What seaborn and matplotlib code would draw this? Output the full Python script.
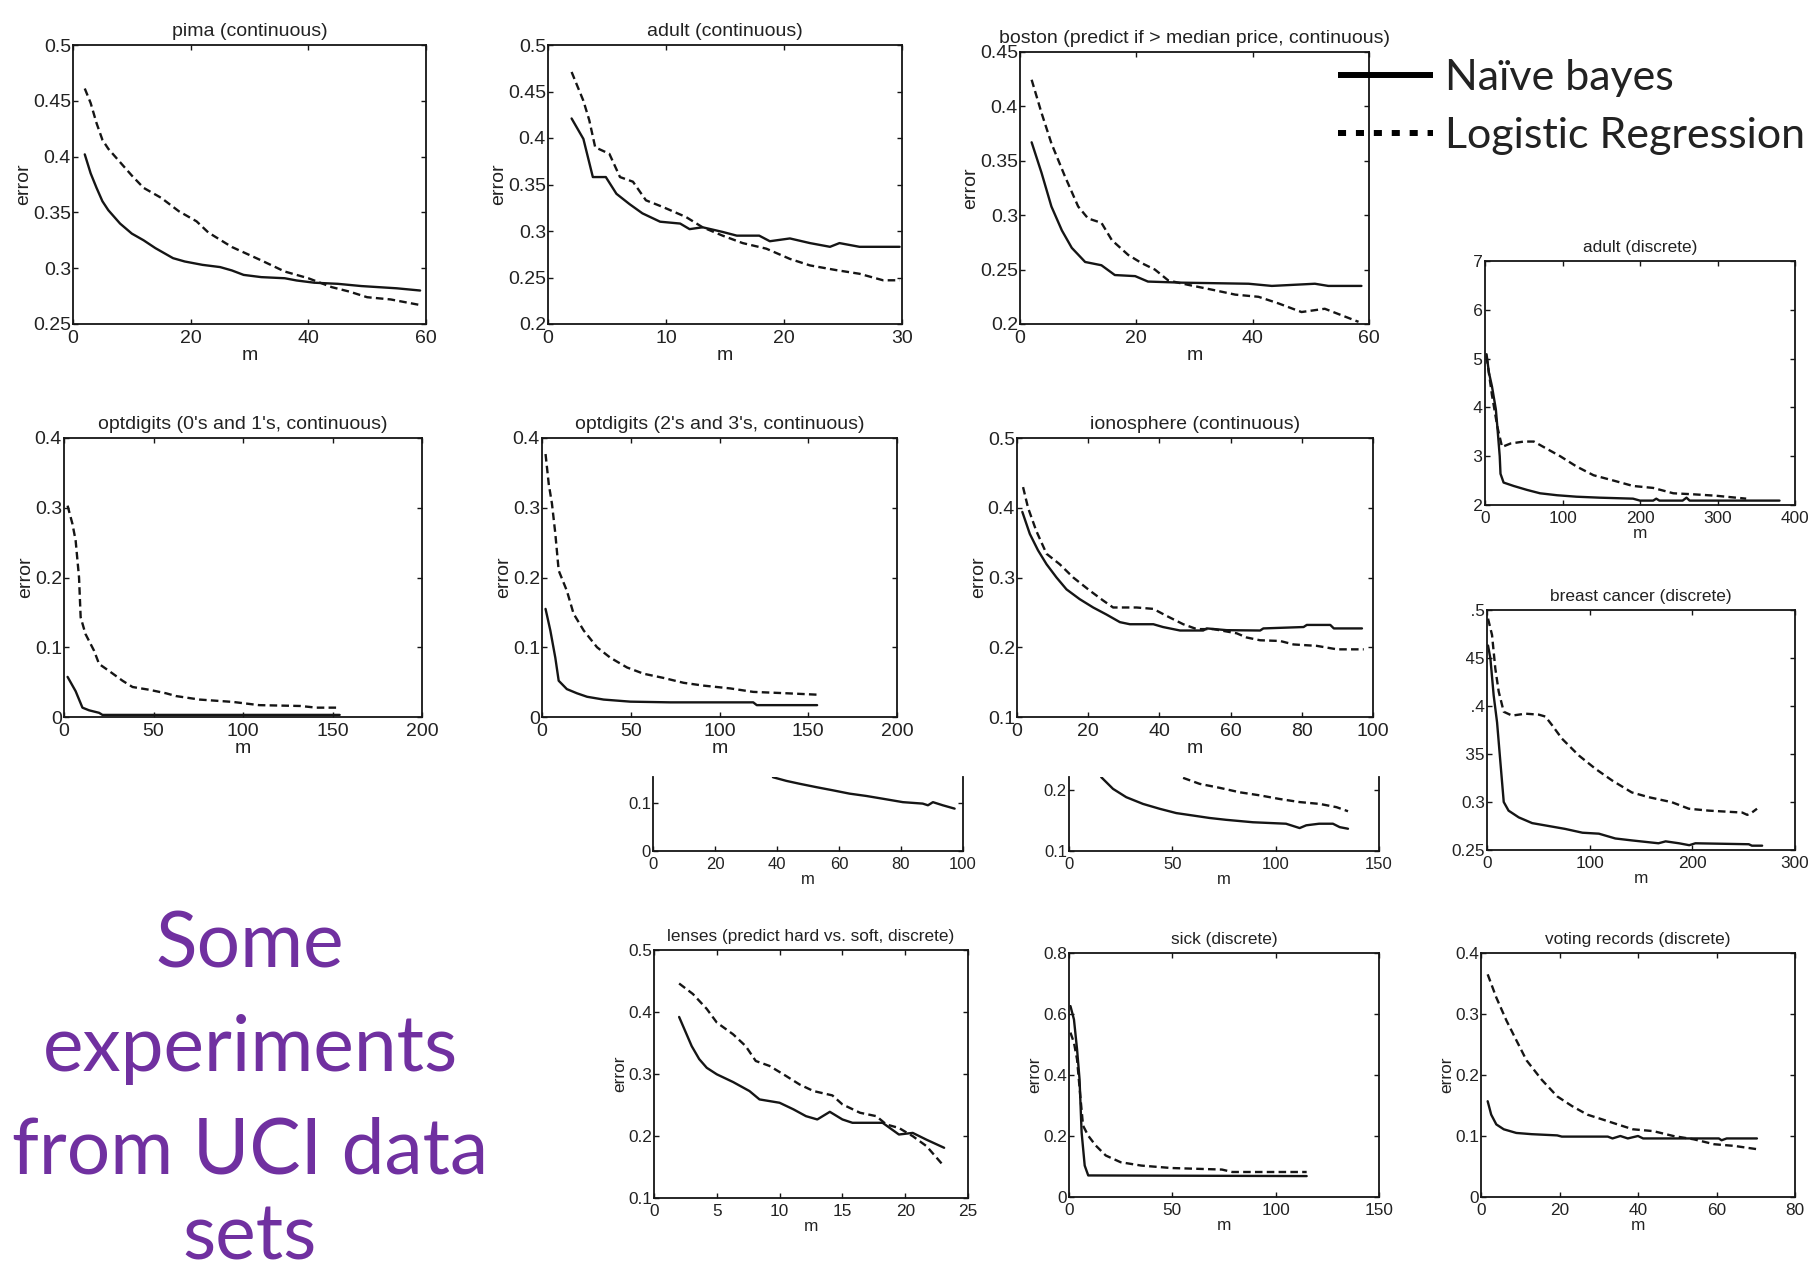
import numpy as np
import pandas as pd
import matplotlib
matplotlib.use("Agg")
import matplotlib.pyplot as plt
import seaborn as sns
from matplotlib.lines import Line2D
from matplotlib.patches import Rectangle
from matplotlib.ticker import FuncFormatter

# ---------------------------------------------------------------- data
MODELS = ["Naïve bayes", "Logistic Regression"]

pima_m_nb = [2, 3, 4, 5, 6, 8, 10, 12, 14, 17, 19, 22, 25, 27, 29, 32, 36, 38, 41, 45, 49, 52, 55, 59]
pima_nb = [0.402, 0.385, 0.372, 0.360, 0.352, 0.340, 0.331, 0.325, 0.318, 0.309, 0.306, 0.303,
           0.301, 0.298, 0.294, 0.292, 0.291, 0.289, 0.287, 0.286, 0.284, 0.283, 0.282, 0.280]
pima_m_lr = [2, 3, 4, 5, 6, 8, 10, 12, 15, 18, 21, 23, 27, 32, 36, 40, 44, 47, 50, 54, 59]
pima_lr = [0.461, 0.448, 0.430, 0.415, 0.407, 0.395, 0.383, 0.372, 0.363, 0.351, 0.342, 0.332,
           0.319, 0.307, 0.297, 0.291, 0.283, 0.279, 0.274, 0.272, 0.267]

adult_m_nb = [2, 3, 3.8, 4.9, 5.8, 6.9, 8, 9.5, 11.2, 12, 13.1, 14.8, 16, 17.9, 18.8, 20.5,
              22.2, 23.9, 24.7, 26.4, 29.8]
adult_nb = [0.421, 0.399, 0.358, 0.358, 0.340, 0.329, 0.319, 0.310, 0.308, 0.302, 0.304, 0.299,
            0.295, 0.295, 0.289, 0.292, 0.287, 0.283, 0.287, 0.283, 0.283]
adult_m_lr = [2, 3, 3.5, 4, 5.2, 6.1, 7.2, 8.3, 9.7, 11.7, 13.1, 14.8, 16.5, 18.5, 20.5, 22.2,
              24.4, 26.4, 28.4, 29.8]
adult_lr = [0.471, 0.440, 0.419, 0.390, 0.383, 0.358, 0.353, 0.333, 0.326, 0.315, 0.304, 0.295,
            0.287, 0.281, 0.270, 0.263, 0.258, 0.254, 0.247, 0.247]

boston_m_nb = [2, 3.7, 5.4, 7.2, 8.9, 11.2, 14, 16.3, 19.8, 22, 27.8, 39.3, 43.3, 50.7, 53, 58.7]
boston_nb = [0.367, 0.339, 0.308, 0.286, 0.270, 0.257, 0.254, 0.245, 0.244, 0.239, 0.238, 0.237,
             0.235, 0.237, 0.235, 0.235]
boston_m_lr = [2, 3.7, 5.4, 7.7, 10, 11.7, 14, 15.8, 18.6, 20.9, 23.2, 25.5, 28.9, 33.5, 37, 41,
               44.4, 48.4, 52.4, 55.3, 58.2]
boston_lr = [0.4245, 0.394, 0.366, 0.336, 0.308, 0.297, 0.293, 0.277, 0.2635, 0.256, 0.250, 0.240,
             0.236, 0.231, 0.227, 0.225, 0.219, 0.211, 0.214, 0.208, 0.202]

adultd_m_nb = [2, 5, 9, 14, 16, 19, 20, 24, 37, 54, 71, 93, 118, 148, 191, 200, 217, 221, 225,
               255, 260, 264, 380]
adultd_nb = [0.509, 0.472, 0.443, 0.396, 0.359, 0.300, 0.264, 0.246, 0.239, 0.231, 0.224, 0.220,
             0.217, 0.215, 0.213, 0.209, 0.209, 0.213, 0.209, 0.209, 0.215, 0.209, 0.209]
adultd_m_lr = [2, 9, 16, 22, 33, 50, 63, 80, 97, 118, 140, 166, 191, 217, 243, 268, 298, 337]
adultd_lr = [0.505, 0.425, 0.360, 0.319, 0.326, 0.330, 0.330, 0.315, 0.300, 0.279, 0.261, 0.250,
             0.239, 0.235, 0.224, 0.222, 0.219, 0.213]

opt01_m_nb = [2, 6.5, 10.3, 14, 19.6, 21.5, 154]
opt01_nb = [0.0575, 0.037, 0.0134, 0.0096, 0.006, 0.003, 0.003]
opt01_m_lr = [2, 4.7, 6.5, 8.4, 9.3, 12, 16.8, 19.6, 25.2, 32.7, 38.3, 47.7, 57, 62.6, 75.7,
              94.4, 109, 132, 141, 152]
opt01_lr = [0.303, 0.277, 0.253, 0.200, 0.143, 0.119, 0.095, 0.076, 0.066, 0.052, 0.043, 0.039,
            0.034, 0.030, 0.025, 0.0216, 0.017, 0.0158, 0.0134, 0.0134]

opt23_m_nb = [2, 4.7, 7.5, 9.4, 14, 19.7, 25.4, 34.7, 49.8, 72.3, 119, 121, 155]
opt23_nb = [0.155, 0.124, 0.085, 0.052, 0.040, 0.034, 0.029, 0.025, 0.022, 0.021, 0.021, 0.017, 0.017]
opt23_m_lr = [2, 3.8, 5.6, 7.5, 9.4, 14, 17.8, 23.5, 31, 38.5, 47.9, 57.3, 68.5, 79.8, 91, 106,
              119, 138, 155]
opt23_lr = [0.377, 0.334, 0.306, 0.263, 0.210, 0.181, 0.148, 0.124, 0.100, 0.085, 0.071, 0.062,
            0.056, 0.049, 0.045, 0.041, 0.036, 0.034, 0.032]

iono_m_nb = [1.5, 3.6, 5.9, 8.3, 11.1, 13.9, 17.6, 21.4, 25.1, 28.9, 31.7, 38.3, 41, 45.8, 52.3,
             53.3, 58.9, 68.3, 69.2, 80.5, 81.4, 88, 89, 96.9]
iono_nb = [0.394, 0.3625, 0.339, 0.319, 0.300, 0.283, 0.269, 0.257, 0.247, 0.236, 0.233, 0.233,
           0.229, 0.224, 0.224, 0.227, 0.2245, 0.224, 0.227, 0.229, 0.232, 0.232, 0.227, 0.227]
iono_m_lr = [1.7, 3.1, 5.4, 8.3, 12, 15.8, 20.5, 24.2, 27, 33.6, 38.3, 42, 46.7, 50.5, 55.2, 61.7,
             64.5, 68.3, 73.9, 77.7, 84.2, 89.9, 97.4]
iono_lr = [0.4296, 0.400, 0.367, 0.334, 0.319, 0.300, 0.281, 0.267, 0.257, 0.257, 0.255, 0.245,
           0.233, 0.226, 0.226, 0.220, 0.214, 0.210, 0.209, 0.204, 0.202, 0.197, 0.197]

breast_m_nb = [1, 3.3, 6.5, 9.8, 13, 16.3, 21, 30.9, 44, 60, 76, 93, 109, 125, 141, 167, 174, 187,
               197, 203, 255, 258, 268]
breast_nb = [0.463, 0.4495, 0.411, 0.383, 0.342, 0.300, 0.291, 0.284, 0.278, 0.275, 0.272, 0.268,
             0.267, 0.262, 0.260, 0.257, 0.259, 0.257, 0.255, 0.257, 0.256, 0.2545, 0.2545]
breast_m_lr = [1, 4.9, 8.1, 11.4, 16.3, 24.4, 37.4, 50.4, 56.9, 63.4, 73, 89.4, 105.6, 121.9, 141,
               157.6, 180, 196.6, 216, 248.6, 253.5, 258, 263]
breast_lr = [0.491, 0.474, 0.439, 0.415, 0.394, 0.390, 0.392, 0.391, 0.389, 0.380, 0.366, 0.3485,
             0.3346, 0.3224, 0.310, 0.305, 0.2998, 0.293, 0.291, 0.289, 0.2866, 0.289, 0.293]

stripa_m_nb = [38.7, 43, 47.3, 52.7, 58, 63.4, 68.8, 74.2, 80.6, 87, 88.7, 90.3, 93.5, 97.3]
stripa_nb = [0.1525, 0.145, 0.139, 0.132, 0.1255, 0.1186, 0.1138, 0.108, 0.101, 0.098, 0.0945,
             0.101, 0.0945, 0.0876]

stripb_m_nb = [15.6, 21.3, 27.7, 35.8, 43.9, 51.9, 60, 68, 76, 89, 105, 111.6, 114.8, 121, 127.7,
               131, 135]
stripb_nb = [0.2207, 0.2016, 0.188, 0.177, 0.169, 0.162, 0.158, 0.154, 0.151, 0.147, 0.1446,
             0.1375, 0.142, 0.1446, 0.1446, 0.139, 0.1364]
stripb_m_lr = [55.2, 63.2, 72.9, 82.6, 92.3, 102, 111.6, 121.3, 129.4, 135]
stripb_lr = [0.2196, 0.2098, 0.2033, 0.196, 0.191, 0.185, 0.180, 0.177, 0.1717, 0.165]

lenses_m_nb = [2, 3, 3.6, 4.2, 5, 6.3, 7.6, 8.4, 10, 11.1, 12.1, 13, 14, 15, 15.8, 18.2, 19.5,
               20.6, 21.7, 23.1]
lenses_nb = [0.392, 0.345, 0.324, 0.310, 0.2995, 0.287, 0.2725, 0.259, 0.2536, 0.243, 0.232,
             0.2267, 0.239, 0.2267, 0.2213, 0.2213, 0.2024, 0.205, 0.194, 0.181]
lenses_m_lr = [2, 3.1, 4.2, 5, 6.3, 7.3, 8.1, 9.2, 10.5, 11.6, 12.7, 14.2, 15, 16.4, 17.7, 18.5,
               19.5, 20.6, 21.7, 23.1]
lenses_lr = [0.446, 0.429, 0.405, 0.383, 0.364, 0.345, 0.321, 0.313, 0.297, 0.283, 0.2725,
             0.2655, 0.251, 0.2375, 0.232, 0.2186, 0.213, 0.1997, 0.1836, 0.151]

sick_m_nb = [0.7, 2.4, 3.9, 5.1, 6.1, 7.6, 9.3, 115]
sick_nb = [0.626, 0.582, 0.484, 0.386, 0.212, 0.103, 0.0707, 0.0686]
sick_m_lr = [0.7, 2.4, 3.9, 5.6, 6.8, 9.3, 12.9, 17.8, 25, 35, 49.5, 74, 79, 115]
sick_lr = [0.539, 0.506, 0.451, 0.321, 0.234, 0.201, 0.169, 0.136, 0.114, 0.103, 0.095, 0.090,
           0.082, 0.082]

voting_m_nb = [1.7, 2.6, 3.9, 5.8, 9, 12.9, 19.4, 20.6, 32.3, 33.5, 35.5, 37.4, 40, 41.3, 60.6,
               61.3, 62.6, 70.3]
voting_nb = [0.157, 0.135, 0.119, 0.111, 0.105, 0.103, 0.101, 0.099, 0.099, 0.096, 0.100, 0.096,
             0.100, 0.096, 0.096, 0.093, 0.096, 0.096]
voting_m_lr = [1.7, 3.9, 6.5, 9, 11.6, 15.5, 19.4, 23.2, 27.1, 31, 34.8, 38.7, 43.9, 49, 54.2,
               59.4, 64.5, 70.3]
voting_lr = [0.365, 0.327, 0.289, 0.257, 0.224, 0.192, 0.165, 0.149, 0.135, 0.127, 0.119, 0.111,
             0.108, 0.100, 0.0946, 0.0865, 0.0838, 0.0784]

HEADLINE = ["Some", "experiments", "from UCI data", "sets"]

SERIES = {
    "pima": [(pima_m_nb, pima_nb), (pima_m_lr, pima_lr)],
    "adult": [(adult_m_nb, adult_nb), (adult_m_lr, adult_lr)],
    "boston": [(boston_m_nb, boston_nb), (boston_m_lr, boston_lr)],
    "adultd": [(adultd_m_nb, adultd_nb), (adultd_m_lr, adultd_lr)],
    "opt01": [(opt01_m_nb, opt01_nb), (opt01_m_lr, opt01_lr)],
    "opt23": [(opt23_m_nb, opt23_nb), (opt23_m_lr, opt23_lr)],
    "iono": [(iono_m_nb, iono_nb), (iono_m_lr, iono_lr)],
    "breast": [(breast_m_nb, breast_nb), (breast_m_lr, breast_lr)],
    "stripa": [(stripa_m_nb, stripa_nb), None],
    "stripb": [(stripb_m_nb, stripb_nb), (stripb_m_lr, stripb_lr)],
    "lenses": [(lenses_m_nb, lenses_nb), (lenses_m_lr, lenses_lr)],
    "sick": [(sick_m_nb, sick_nb), (sick_m_lr, sick_lr)],
    "voting": [(voting_m_nb, voting_nb), (voting_m_lr, voting_lr)],
}

# ---------------------------------------------------------------- layout (pixel boxes: left, top, right, bottom)
PANELS = [
    dict(key="pima", box=(73, 45, 426, 324), title="pima (continuous)", xlim=(0, 60), xstep=20,
         ylim=(0.25, 0.5), ystep=0.05, fs=14, ylab=True),
    dict(key="adult", box=(548, 45, 902, 324), title="adult (continuous)", xlim=(0, 30), xstep=10,
         ylim=(0.2, 0.5), ystep=0.05, fs=14, ylab=True),
    dict(key="boston", box=(1020, 52, 1369, 324),
         title="boston (predict if > median price, continuous)", xlim=(0, 60), xstep=20,
         ylim=(0.2, 0.45), ystep=0.05, fs=14, ylab=True),
    dict(key="adultd", box=(1485, 261, 1795, 505), title="adult (discrete)", xlim=(0, 400),
         xstep=100, ylim=(0.2, 0.7), ystep=0.1, fs=12.4, ylab=False),
    dict(key="opt01", box=(64, 438, 422, 717), title="optdigits (0's and 1's, continuous)",
         xlim=(0, 200), xstep=50, ylim=(0, 0.4), ystep=0.1, fs=14, ylab=True),
    dict(key="opt23", box=(542, 438, 897, 717), title="optdigits (2's and 3's, continuous)",
         xlim=(0, 200), xstep=50, ylim=(0, 0.4), ystep=0.1, fs=14, ylab=True),
    dict(key="iono", box=(1017, 438, 1373, 717), title="ionosphere (continuous)", xlim=(0, 100),
         xstep=20, ylim=(0.1, 0.5), ystep=0.1, fs=14, ylab=True),
    dict(key="breast", box=(1487, 610, 1795, 850), title="breast cancer (discrete)",
         xlim=(0, 300), xstep=100, ylim=(0.25, 0.5), ystep=0.05, fs=12.4, ylab=False),
    dict(key="stripa", box=(653, 777, 963, 851), title=None, xlim=(0, 100), xstep=20,
         ylim=(0, 0.153), ystep=0.1, fs=12, ylab=False, open_top=True),
    dict(key="stripb", box=(1069, 777, 1379, 851), title=None, xlim=(0, 150), xstep=50,
         ylim=(0.1, 0.221), ystep=0.1, fs=12, ylab=False, open_top=True),
    dict(key="lenses", box=(654, 950, 968, 1198), title="lenses (predict hard vs. soft, discrete)",
         xlim=(0, 25), xstep=5, ylim=(0.1, 0.5), ystep=0.1, fs=12.4, ylab=True),
    dict(key="sick", box=(1069, 953, 1379, 1197), title="sick (discrete)", xlim=(0, 150),
         xstep=50, ylim=(0, 0.8), ystep=0.2, fs=12.4, ylab=True),
    dict(key="voting", box=(1481, 953, 1795, 1197), title="voting records (discrete)",
         xlim=(0, 80), xstep=20, ylim=(0, 0.4), ystep=0.1, fs=12.4, ylab=True),
]

W, H = 1812, 1279
INK = "#151515"
TXT = "#222222"
PURPLE = "#7030A0"
DASHES = {"Naïve bayes": "", "Logistic Regression": (3.2, 1.8)}

sns.set_theme(style="ticks")
plt.rcParams["font.family"] = ["Liberation Sans", "DejaVu Sans"]
plt.rcParams.update({
    "axes.edgecolor": INK,
    "axes.linewidth": 1.3,
    "axes.titlecolor": TXT,
    "axes.labelcolor": TXT,
    "text.color": TXT,
    "xtick.color": INK,
    "ytick.color": INK,
    "xtick.labelcolor": TXT,
    "ytick.labelcolor": TXT,
})


def fig_rect(l, t, r, b):
    return [l / W, 1 - b / H, (r - l) / W, (b - t) / H]


fig = plt.figure(figsize=(W / 100, H / 100), dpi=100, facecolor="white")
fmt = FuncFormatter(lambda v, _: f"{v:g}")

for spec in PANELS:
    ax = fig.add_axes(fig_rect(*spec["box"]))
    frames = []
    present = []
    for model, pair in zip(MODELS, SERIES[spec["key"]]):
        if pair is None:
            continue
        m, e = pair
        frames.append(pd.DataFrame({"m": m, "error": e, "model": model}))
        present.append(model)
    df = pd.concat(frames, ignore_index=True)
    sns.lineplot(data=df, x="m", y="error", style="model", style_order=present,
                 dashes={k: DASHES[k] for k in present}, color=INK, linewidth=1.7,
                 estimator=None, sort=False, legend=False, ax=ax)

    x0, x1 = spec["xlim"]
    y0, y1 = spec["ylim"]
    ax.set_xlim(x0, x1)
    ax.set_ylim(y0, y1)
    ax.set_xticks(np.arange(x0, x1 + 1e-9, spec["xstep"]))
    yt = np.arange(y0, y1 + 1e-9, spec["ystep"])
    ax.set_yticks(yt)
    ax.xaxis.set_major_formatter(fmt)
    ax.yaxis.set_major_formatter(fmt)

    fs = spec["fs"]
    open_top = spec.get("open_top", False)
    ax.tick_params(axis="both", direction="in", length=3.5, width=1.0, labelsize=fs)
    ax.tick_params(axis="x", top=not open_top, pad=4.0)
    ax.tick_params(axis="y", right=True, pad=1.5)
    if open_top:
        ax.spines["top"].set_visible(False)
    for s in ["left", "right", "bottom"]:
        ax.spines[s].set_visible(True)

    ax.set_xlabel("m", fontsize=fs, labelpad=0.5)
    ax.set_ylabel("error" if spec["ylab"] else "", fontsize=fs, labelpad=0.5)
    if spec["title"]:
        ax.set_title(spec["title"], fontsize=fs, pad=6.5)

# white covers hide the left part of a few y tick labels
COVERS = [
    (1440, 250, 1473, 515),     # adult (discrete)
    (1430, 597, 1470.5, 623),   # breast cancer 0.5
    (1430, 645, 1465.7, 671),   # breast cancer 0.45
    (1430, 693, 1470.5, 719),   # breast cancer 0.4
    (1430, 741, 1465.7, 767),   # breast cancer 0.35
]
for l, t, r, b in COVERS:
    fig.add_artist(Rectangle((l / W, 1 - b / H), (r - l) / W, (b - t) / H,
                             transform=fig.transFigure, facecolor="white",
                             edgecolor="none", zorder=10))

renderer = fig.canvas.get_renderer()

# legend
probe = fig.text(0, 0, "Logistic Regression", family=["Lato", "DejaVu Sans"], fontsize=30)
lsize = 30 * 361 / probe.get_window_extent(renderer).width
probe.remove()
lpx = lsize * 100 / 72
handles = [
    Line2D([], [], color="black", linewidth=4.3, solid_capstyle="butt"),
    Line2D([], [], color="black", linewidth=4.3, linestyle=(0, (1.35, 1.65)),
           dash_capstyle="butt"),
]
fig.legend(handles, MODELS, loc="center left", bbox_to_anchor=(1338 / W, 1 - 107 / H),
           bbox_transform=fig.transFigure, frameon=False, borderpad=0, borderaxespad=0,
           handlelength=95 / lpx, handletextpad=12 / lpx, labelspacing=0.48,
           prop={"family": ["Lato", "DejaVu Sans"], "size": lsize})

# headline text block
probe = fig.text(0, 0, HEADLINE[2], family=["Lato", "DejaVu Sans"], fontsize=50)
hsize = 50 * 476 / probe.get_window_extent(renderer).width
probe.remove()
for line, base in zip(HEADLINE, [967, 1071, 1173, 1260]):
    fig.text(250 / W, 1 - base / H, line, ha="center", va="baseline", color=PURPLE,
             family=["Lato", "DejaVu Sans"], fontsize=hsize)

fig.savefig("out.png", dpi=100, facecolor="white")
